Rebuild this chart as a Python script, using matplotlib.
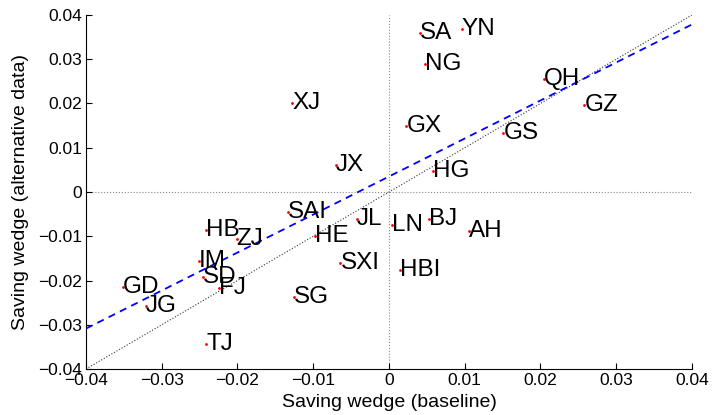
import matplotlib
matplotlib.use('Agg')
import matplotlib.pyplot as plt
import numpy as np

# province codes and saving wedges
names = ['SA', 'YN', 'NG', 'QH', 'GZ', 'GX', 'GS', 'HG', 'XJ', 'JX',
         'SAI', 'HB', 'ZJ', 'HE', 'IM', 'SXI', 'SD', 'GD', 'FJ', 'JG',
         'SG', 'TJ', 'JL', 'LN', 'BJ', 'AH', 'HBI']
baseline = [0.0041, 0.0096, 0.0047, 0.0204, 0.0258, 0.0023, 0.0151, 0.0058,
            -0.0128, -0.0070, -0.0133, -0.0241, -0.0201, -0.0098, -0.0251,
            -0.0064, -0.0245, -0.0351, -0.0224, -0.0321, -0.0125, -0.0241,
            -0.0042, 0.0004, 0.0053, 0.0105, 0.0015]
alternative = [0.0359, 0.0368, 0.0289, 0.0255, 0.0197, 0.0149, 0.0133, 0.0048,
               0.0202, 0.0062, -0.0046, -0.0086, -0.0106, -0.0099, -0.0156,
               -0.0160, -0.0191, -0.0215, -0.0218, -0.0257, -0.0237, -0.0343,
               -0.0062, -0.0075, -0.0062, -0.0087, -0.0176]

# fitted line (slope, intercept) as drawn in the chart
fit_slope = 0.859
fit_intercept = 0.0035

plt.rcParams['font.family'] = ['Liberation Sans', 'DejaVu Sans']

fig = plt.figure(figsize=(7.13, 4.15), dpi=100)
ax = fig.add_axes([0.1206, 0.1108, 0.8499, 0.8531])

lim = (-0.04, 0.04)
xs = np.array(lim)

# zero lines and 45 degree line
ax.axhline(0, color='#888888', ls=':', lw=0.8, zorder=1)
ax.axvline(0, color='#888888', ls=':', lw=0.8, zorder=1)
ax.plot(xs, xs, color='#333333', ls=':', lw=0.8, zorder=2)
ax.plot(xs, fit_slope * xs + fit_intercept, color='#0000ff', ls='--',
        lw=1.3, dashes=(4, 3), zorder=3)

ax.plot(baseline, alternative, 'r.', ms=2, zorder=4)
for nm, x, y in zip(names, baseline, alternative):
    ax.text(x, y, nm, ha='left', va='center', fontsize=17.5, zorder=5)

ax.set_xlim(lim)
ax.set_ylim(lim)
ax.set_xticks(np.arange(-0.04, 0.0401, 0.01))
ax.set_yticks(np.arange(-0.04, 0.0401, 0.01))
ax.set_xticklabels(['\u22120.04', '\u22120.03', '\u22120.02', '\u22120.01', '0',
                    '0.01', '0.02', '0.03', '0.04'])
ax.set_yticklabels(['\u22120.04', '\u22120.03', '\u22120.02', '\u22120.01', '0',
                    '0.01', '0.02', '0.03', '0.04'])
ax.tick_params(direction='in', length=4, labelsize=12.5, pad=3)

ax.spines['top'].set_visible(False)
ax.spines['right'].set_visible(False)
ax.set_xlabel('Saving wedge (baseline)', fontsize=14, labelpad=4)
ax.set_ylabel('Saving wedge (alternative data)', fontsize=14, labelpad=6)

plt.savefig('out.png', dpi=100)
